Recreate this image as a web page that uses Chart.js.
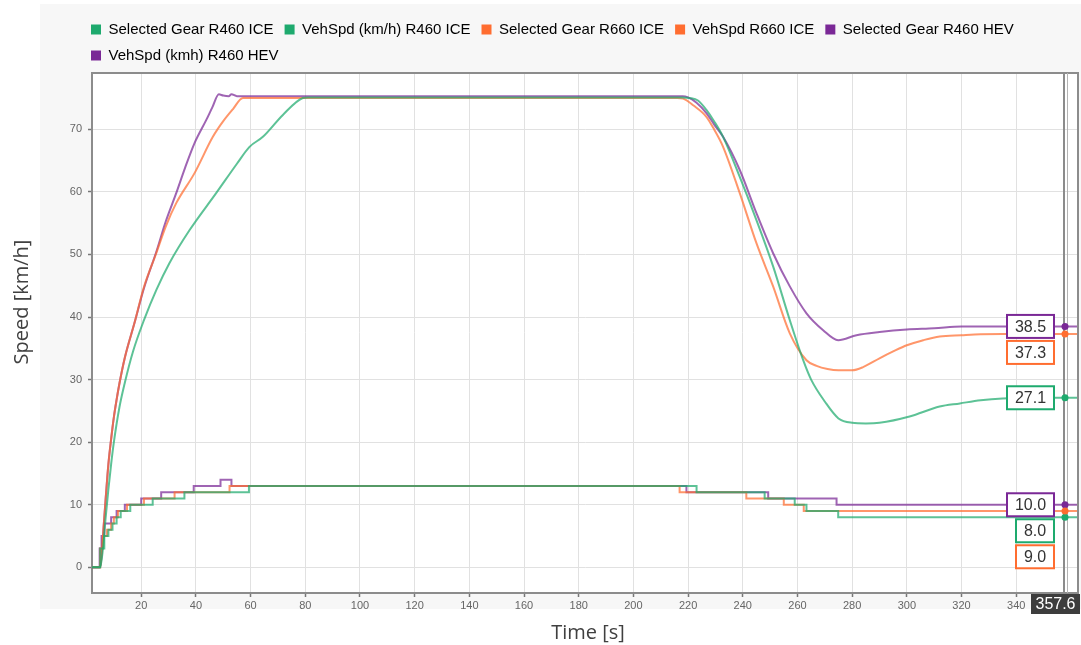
<!DOCTYPE html>
<html>
<head>
<meta charset="utf-8">
<title>Speed / Selected Gear</title>
<script src="https://cdn.jsdelivr.net/npm/chart.js@4.4.1/dist/chart.umd.min.js"></script>
<style>
  html, body { margin: 0; padding: 0; background: #fff; }
  canvas { display: block; }
</style>
</head>
<body>
<canvas id="speedChart" width="1081" height="645"></canvas>
<script>
const GREEN = '#1eaa6e';
const ORANGE = '#ff6d30';
const PURPLE = '#7a2896';

const timeTicks = [20, 40, 60, 80, 100, 120, 140, 160, 180, 200, 220, 240, 260, 280, 300, 320, 340];
const speedTicks = [0, 10, 20, 30, 40, 50, 60, 70];
const cursorTime = 357.6;

// selected gear, R460 ICE
const gearR460IceT = [2, 5, 6.5, 8, 9.5, 11, 12.5, 16, 24.2, 35.8, 59.4, 223.1, 248, 259, 263.3, 274.9, 363];
const gearR460IceV = [0, 3, 5, 6, 7, 8, 9, 10, 11, 12, 13, 12, 11, 10, 9, 8, 8];

// vehicle speed, R460 ICE
const spdR460IceT = [2, 5, 6, 7, 8, 9, 10, 12, 14, 17, 21, 25.5, 30.3, 37.7, 47.4, 55, 59.6, 64.5, 71.8, 79.1, 81,
  218, 220.6, 223.6, 226.7, 229.5, 232.8, 238.9, 245, 251.1, 257.2, 262.1, 265, 270, 275, 280, 285, 290,
  301, 312, 319.4, 327, 335, 345, 363];
const spdR460IceV = [0, 0, 3, 8, 12.5, 16.5, 20, 25.5, 29.5, 34.5, 39.5, 44.3, 48.6, 53.9, 59.8, 64.5, 67.2, 68.8, 72.3, 75.0, 75.1,
  75.1, 75.0, 74.6, 73.1, 71.3, 68.8, 62.4, 55.5, 48.1, 39.5, 33.1, 30.0, 26.5, 23.8, 23.1, 23.0, 23.1,
  24.1, 25.7, 26.2, 26.7, 27.0, 27.1, 27.1];

// selected gear, R660 ICE
const gearR660IceT = [2, 5, 6, 7.5, 9, 10, 11.5, 14.8, 21, 32.2, 52.3, 216.9, 241.3, 255, 262.3, 363];
const gearR660IceV = [0, 3, 5, 6, 7, 8, 9, 10, 11, 12, 13, 12, 11, 10, 9, 9];

// vehicle speed, R660 ICE
const spdR660IceT = [2, 5, 6, 7, 8, 9, 10, 11, 12, 14, 17.5, 21, 25.5, 29, 32.8, 39.5, 46.2, 50, 53.5, 57.2, 58.5,
  216, 218.2, 222, 226.7, 229.5, 232.8, 238.9, 245, 251.1, 257.2, 263.3, 267, 271, 275, 280, 284, 290,
  295, 300, 306, 312, 320, 327, 335, 345, 363];
const spdR660IceV = [0, 0, 5, 11, 16.5, 20.5, 24, 26.8, 29.3, 33.5, 39, 44.8, 50.2, 54.5, 58.2, 63.0, 68.8, 71.3, 73.2, 75.0, 75.0,
  75.0, 74.9, 73.8, 72.0, 70.0, 67.2, 59.8, 51.8, 44.9, 37.4, 33.1, 32.2, 31.7, 31.5, 31.5, 32.0, 33.4,
  34.5, 35.5, 36.3, 36.9, 37.1, 37.25, 37.3, 37.3, 37.3];

// selected gear, R460 HEV
const gearR460HevT = [2, 4.8, 5.5, 6.5, 9, 11, 14, 20, 27.3, 39.2, 49, 53, 219.4, 249.3, 274.3, 363];
const gearR460HevV = [0, 3, 5, 7, 8, 9, 10, 11, 12, 13, 14, 13, 12, 11, 10, 10];

// vehicle speed, R460 HEV
const spdR460HevT = [2, 5, 6, 7, 8, 9, 10, 11, 12, 14, 17.5, 21, 25.5, 29, 32.8, 36, 39.5, 43.8, 46, 48.4, 50, 52, 53, 55, 57,
  218, 220, 223, 226.7, 229.5, 232.8, 238.9, 245, 251.1, 257.2, 263.3, 269.4, 274.9, 281.6, 290,
  300, 310, 320, 335, 345, 363];
const spdR460HevV = [0, 0, 5, 11, 16.5, 20.5, 24, 26.8, 29.3, 33.5, 39, 44.6, 50.4, 55.3, 59.8, 63.8, 67.8, 71.5, 73.5, 75.6, 75.4, 75.3, 75.6, 75.3, 75.3,
  75.3, 75.1, 74.3, 72.6, 70.8, 68.8, 63.5, 56.6, 50.2, 44.9, 40.6, 37.9, 36.3, 37.1, 37.6,
  38.0, 38.2, 38.5, 38.5, 38.5, 38.5];

const seriesLabels = [
  'Selected Gear R460 ICE', 'VehSpd (km/h) R460 ICE',
  'Selected Gear R660 ICE', 'VehSpd R660 ICE',
  'Selected Gear R460 HEV', 'VehSpd (kmh) R460 HEV'
];
const seriesColors = [GREEN, GREEN, ORANGE, ORANGE, PURPLE, PURPLE];
const seriesTimes = [gearR460IceT, spdR460IceT, gearR660IceT, spdR660IceT, gearR460HevT, spdR460HevT];
const seriesValues = [gearR460IceV, spdR460IceV, gearR660IceV, spdR660IceV, gearR460HevV, spdR460HevV];
const seriesStepped = [true, false, true, false, true, false];

// readout boxes are stacked HEV first, then R460 ICE, then R660 ICE
const readoutOrder = [5, 1, 3, 4, 0, 2];

function fade(hex, a) {
  const n = parseInt(hex.slice(1), 16);
  return `rgba(${n >> 16}, ${(n >> 8) & 255}, ${n & 255}, ${a})`;
}

function valueAt(points, t) {
  let v = points[0].y;
  for (const p of points) {
    if (p.x <= t) v = p.y;
  }
  return v;
}

const datasets = seriesLabels.map((label, i) => ({
  label: label,
  data: seriesTimes[i].map((t, k) => ({x: t, y: seriesValues[i][k]})),
  borderColor: fade(seriesColors[i], 0.72),
  backgroundColor: seriesColors[i],
  borderWidth: 2,
  pointRadius: 0,
  stepped: seriesStepped[i],
  cubicInterpolationMode: seriesStepped[i] ? 'default' : 'monotone'
}));

const decor = {
  id: 'decor',
  afterLayout(chart) {
    // legend rows start at the plot's left edge rather than the panel's
    const lg = chart.legend;
    lg.left = chart.chartArea.left - 12;
  },
  beforeDraw(chart) {
    const {ctx, chartArea: a, width, height} = chart;
    const top = chart.legend.top - 7;
    ctx.save();
    ctx.fillStyle = '#fff';
    ctx.fillRect(0, 0, width, height);
    ctx.fillStyle = '#f7f7f7';
    ctx.fillRect(a.left - 52, top, width - (a.left - 52), a.bottom + 16 - top);
    ctx.fillStyle = '#fff';
    ctx.fillRect(a.left, a.top, a.right - a.left, a.bottom - a.top);
    ctx.restore();
  },
  afterDatasetsDraw(chart) {
    const {ctx, chartArea: a, scales} = chart;
    const x = scales.x, y = scales.y;
    ctx.save();

    // top and right edge of the plot frame
    ctx.strokeStyle = '#8c8c8c';
    ctx.lineWidth = 2;
    ctx.beginPath();
    ctx.moveTo(a.left, a.top);
    ctx.lineTo(a.right, a.top);
    ctx.lineTo(a.right, a.bottom);
    ctx.stroke();

    // cursor
    const cx = Math.round(x.getPixelForValue(cursorTime));
    ctx.strokeStyle = '#8c8c8c';
    ctx.lineWidth = 2;
    ctx.beginPath();
    ctx.moveTo(cx, a.top);
    ctx.lineTo(cx, a.bottom);
    ctx.stroke();
    ctx.strokeStyle = '#b4b4b4';
    ctx.lineWidth = 1;
    ctx.beginPath();
    ctx.moveTo(cx + 3.5, a.top);
    ctx.lineTo(cx + 3.5, a.bottom);
    ctx.stroke();

    // value readouts at the cursor
    ctx.font = '16px "Liberation Sans", Arial, sans-serif';
    ctx.textAlign = 'center';
    ctx.textBaseline = 'middle';
    const boxH = 23, gap = 3;
    const placed = [];
    readoutOrder.forEach(i => {
      const ds = chart.data.datasets[i];
      const val = valueAt(ds.data, cursorTime);
      const py = y.getPixelForValue(val);

      ctx.fillStyle = seriesColors[i];
      ctx.beginPath();
      ctx.arc(cx + 1, py, 3.5, 0, Math.PI * 2);
      ctx.fill();

      let cy = py;
      let moved = true;
      while (moved) {
        moved = false;
        for (const p of placed) {
          if (Math.abs(cy - p) < boxH + gap) {
            cy = p + boxH + gap;
            moved = true;
          }
        }
      }
      placed.push(cy);

      const text = val.toFixed(1);
      const w = Math.round(ctx.measureText(text).width) + 16;
      const right = cx - 10;
      ctx.fillStyle = '#fff';
      ctx.fillRect(right - w, cy - boxH / 2, w, boxH);
      ctx.strokeStyle = seriesColors[i];
      ctx.lineWidth = 2;
      ctx.strokeRect(right - w, cy - boxH / 2, w, boxH);
      ctx.fillStyle = '#333';
      ctx.fillText(text, right - w / 2, cy + 1);
    });
    ctx.restore();
  },
  afterDraw(chart) {
    const {ctx, chartArea: a, scales, width} = chart;
    ctx.save();

    // cursor time tag on the x axis
    const cx = scales.x.getPixelForValue(cursorTime);
    const tagW = 49, tagH = 20;
    const tagX = Math.min(cx - tagW / 2, width - 1 - tagW);
    ctx.fillStyle = '#3d3d3d';
    ctx.fillRect(tagX, a.bottom + 1, tagW, tagH);
    ctx.fillStyle = '#fff';
    ctx.font = '16px "Liberation Sans", Arial, sans-serif';
    ctx.textAlign = 'center';
    ctx.textBaseline = 'middle';
    ctx.fillText(cursorTime.toFixed(1), tagX + tagW / 2, a.bottom + 1 + tagH / 2 + 1);

    // axis titles
    ctx.fillStyle = '#404040';
    ctx.font = '20px "Open Sans", sans-serif';
    ctx.fillText('Time [s]', (a.left + a.right) / 2 + 3, a.bottom + 40);
    ctx.translate(22, (a.top + a.bottom) / 2 - 31);
    ctx.rotate(-Math.PI / 2);
    ctx.fillText('Speed [km/h]', 0, 0);
    ctx.restore();
  }
};

const tickFont = {family: '"Liberation Sans", Arial, sans-serif', size: 11};

new Chart(document.getElementById('speedChart'), {
  type: 'line',
  data: {datasets: datasets},
  options: {
    responsive: false,
    animation: false,
    devicePixelRatio: 1,
    layout: {padding: {left: 40, right: 3, top: 11, bottom: 36}},
    plugins: {
      legend: {
        position: 'top',
        align: 'start',
        labels: {
          font: {family: '"Liberation Sans", Arial, sans-serif', size: 15},
          color: '#555',
          boxWidth: 10,
          boxHeight: 10,
          padding: 11,
          generateLabels(chart) {
            return chart.data.datasets.map((ds, i) => ({
              text: ds.label,
              fillStyle: seriesColors[i],
              strokeStyle: seriesColors[i],
              lineWidth: 0,
              hidden: false,
              datasetIndex: i
            }));
          }
        }
      },
      tooltip: {enabled: false}
    },
    scales: {
      x: {
        type: 'linear',
        min: 2,
        max: 362.6,
        afterFit(scale) { scale.height = 16; },
        afterBuildTicks(scale) { scale.ticks = timeTicks.map(v => ({value: v})); },
        grid: {color: '#e1e1e1', lineWidth: 1, tickLength: 4, tickColor: '#777', tickWidth: 1.5},
        border: {color: '#8c8c8c', width: 2},
        ticks: {font: tickFont, color: '#666', padding: 2, maxRotation: 0, autoSkip: false}
      },
      y: {
        type: 'linear',
        min: -4.1,
        max: 79,
        afterFit(scale) { scale.width = 52; },
        afterBuildTicks(scale) { scale.ticks = speedTicks.map(v => ({value: v})); },
        grid: {color: '#e1e1e1', lineWidth: 1, tickLength: 4, tickColor: '#777', tickWidth: 1.5},
        border: {color: '#8c8c8c', width: 2},
        ticks: {font: tickFont, color: '#666', padding: 6}
      }
    }
  },
  plugins: [decor]
});
</script>
</body>
</html>
